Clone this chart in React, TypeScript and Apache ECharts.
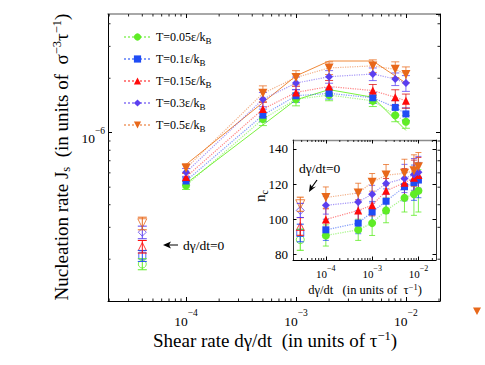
import React, { useEffect, useRef } from "react";
import * as echarts from "echarts";

const FONT = '"Liberation Serif", "Times New Roman", Times, serif';

// ---- series identity ----
const SERIES_NAMES = ["T=0.05ε/kB", "T=0.1ε/kB", "T=0.15ε/kB", "T=0.3ε/kB", "T=0.5ε/kB"];
const COLORS = ["#5fec26", "#1f4cf5", "#ff0a0a", "#5b3ff0", "#e8681a"];
const LINE_COLORS = [
  "rgba(95,236,38,0.55)",
  "rgba(31,76,245,0.55)",
  "rgba(255,10,10,0.5)",
  "rgba(91,63,240,0.55)",
  "rgba(232,104,26,0.5)",
];
const BAR_COLORS = [
  "rgba(95,236,38,0.8)",
  "rgba(31,76,245,0.75)",
  "rgba(220,10,10,0.75)",
  "rgba(91,63,240,0.75)",
  "rgba(232,104,26,0.75)",
];
const SYMBOLS = ["circle", "rect", "triangle", "diamond", "triangle"];
const SYMBOL_ROTATE = [0, 0, 0, 0, 180];
const SYMBOL_SIZES = [8, 7, 8, 8, 9];

// ---- main panel: nucleation rate J_s vs shear rate ----
const SHEAR_RATES = [1e-4, 5e-4, 1e-3, 2e-3, 5e-3, 8e-3, 1e-2];
const J_T005 = [5.11e-7, 1.19e-6, 1.53e-6, 1.615e-6, 1.5e-6, 1.25e-6, 1.15e-6];
const J_T01 = [5.41e-7, 1.25e-6, 1.6e-6, 1.65e-6, 1.56e-6, 1.38e-6, 1.27e-6];
const J_T015 = [5.69e-7, 1.35e-6, 1.67e-6, 1.8e-6, 1.71e-6, 1.57e-6, 1.5e-6];
const J_T03 = [6.04e-7, 1.53e-6, 1.88e-6, 2.04e-6, 2.11e-6, 1.98e-6, 1.88e-6];
const J_T05 = [6.36e-7, 1.65e-6, 2.02e-6, 2.28e-6, 2.34e-6, 2.24e-6, 2.1e-6];
const J_VALUES = [J_T005, J_T01, J_T015, J_T03, J_T05];
// relative error bars
const J_ERR_T005 = [0.05, 0.08, 0.08, 0.07, 0.07, 0.08, 0.08];
const J_ERR_T01 = [0.05, 0.08, 0.08, 0.07, 0.07, 0.09, 0.08];
const J_ERR_T015 = [0.05, 0.09, 0.08, 0.08, 0.08, 0.1, 0.09];
const J_ERR_T03 = [0.05, 0.09, 0.08, 0.08, 0.08, 0.08, 0.1];
const J_ERR_T05 = [0.06, 0.1, 0.09, 0.08, 0.08, 0.1, 0.1];
const J_ERRORS = [J_ERR_T005, J_ERR_T01, J_ERR_T015, J_ERR_T03, J_ERR_T05];

// zero-shear points (drawn at an off-scale position)
const J_ZERO_RATE = 4e-5;
const J_ZERO = [1.88e-7, 2.09e-7, 2.35e-7, 2.82e-7, 3.16e-7];
const J_ZERO_ERR = [0.07, 0.07, 0.08, 0.08, 0.08];

// guide lines (solid)
const FIT_RATES = [1e-4, 1e-3, 2e-3, 5e-3, 1e-2];
const FIT_T05 = [6.67e-7, 2.06e-6, 2.49e-6, 2.49e-6, 1.88e-6];
const FIT_T005 = [5.24e-7, 1.52e-6, 1.73e-6, 1.57e-6, 1.03e-6];

// ---- inset: critical size n_c vs shear rate ----
const NC_T005 = [90.9, 94.1, 97.9, 105.1, 112.2, 114.3, 116.2];
const NC_T01 = [94.1, 97.9, 104.2, 110.3, 118.5, 120.8, 122.3];
const NC_T015 = [100, 105.1, 108, 116.2, 120.8, 123.6, 125.1];
const NC_T03 = [108, 109.9, 114.3, 120.4, 123.2, 125.5, 126.7];
const NC_T05 = [112.4, 115, 121, 125.1, 126.1, 127.6, 129.9];
const NC_VALUES = [NC_T005, NC_T01, NC_T015, NC_T03, NC_T05];
const NC_ERR_T005 = [6, 6, 7, 7, 8, 12, 12];
const NC_ERR_T01 = [6, 6, 6, 7, 8, 10, 10];
const NC_ERR_T015 = [6, 6, 6, 7, 8, 10, 10];
const NC_ERR_T03 = [5, 5, 5, 6, 8, 9, 9];
const NC_ERR_T05 = [6, 5.5, 5, 6, 8, 9, 8];
const NC_ERRORS = [NC_ERR_T005, NC_ERR_T01, NC_ERR_T015, NC_ERR_T03, NC_ERR_T05];
const NC_ZERO_RATE = 2.8e-5;
const NC_ZERO = [88.5, 92.3, 96, 105.1, 108.6];
const NC_ZERO_ERR = [6, 5, 5, 4, 4];

// ---- axis tick helpers ----
const MINOR_MANTISSAS = [2, 3, 4, 5, 6, 7, 8, 9];
const X_DECADES = [1e-5, 1e-4, 1e-3, 1e-2];
const Y_DECADES = [1e-7, 1e-6];

// axis ranges (log10 exponents)
const MAIN_X = [Math.pow(10, -4.71), Math.pow(10, -1.69)];
const MAIN_Y = [Math.pow(10, -6.93), Math.pow(10, -5.344)];
const INSET_X = [Math.pow(10, -4.71), Math.pow(10, -1.62)];
const INSET_Y = [77, 145];

function minorTicks(decades: number[], range: number[]) {
  const out: number[] = [];
  decades.forEach((d) =>
    MINOR_MANTISSAS.forEach((m) => {
      const v = m * d;
      if (v > range[0] && v < range[1]) out.push(v);
    })
  );
  return out;
}

const sup = (fs: number) => ({ fontFamily: FONT, fontSize: fs, color: "#000", verticalAlign: "top", lineHeight: fs + 1 });
const sub = (fs: number) => ({ fontFamily: FONT, fontSize: fs, color: "#000", verticalAlign: "bottom", lineHeight: fs + 1 });

function powerLabel(v: number) {
  const e = Math.round(Math.log10(v));
  return "{b|10}{s|" + (e < 0 ? "\u2212" + -e : String(e)) + "}";
}

function errRender(cap: number) {
  return (params: any, api: any) => {
    const x = api.value(0);
    const p1 = api.coord([x, api.value(1)]);
    const p2 = api.coord([x, api.value(2)]);
    const style = { stroke: api.visual("color"), lineWidth: 1 };
    return {
      type: "group",
      children: [
        { type: "line", shape: { x1: p1[0], y1: p1[1], x2: p2[0], y2: p2[1] }, style },
        { type: "line", shape: { x1: p1[0] - cap, y1: p1[1], x2: p1[0] + cap, y2: p1[1] }, style },
        { type: "line", shape: { x1: p2[0] - cap, y1: p2[1], x2: p2[0] + cap, y2: p2[1] }, style },
      ],
    };
  };
}

function xMinorRender(len: number) {
  return (params: any, api: any) => {
    const cs = params.coordSys;
    const px = api.coord([api.value(0), api.value(1)])[0];
    const b = cs.y + cs.height;
    const t = cs.y;
    const style = { stroke: "#222", lineWidth: 1 };
    return {
      type: "group",
      children: [
        { type: "line", shape: { x1: px, y1: b, x2: px, y2: b - len }, style },
        { type: "line", shape: { x1: px, y1: t, x2: px, y2: t + len }, style },
      ],
    };
  };
}

function yMinorRender(len: number) {
  return (params: any, api: any) => {
    const cs = params.coordSys;
    const py = api.coord([api.value(0), api.value(1)])[1];
    const l = cs.x;
    const r = cs.x + cs.width;
    const style = { stroke: "#222", lineWidth: 1 };
    return {
      type: "group",
      children: [
        { type: "line", shape: { x1: l, y1: py, x2: l + len, y2: py }, style },
        { type: "line", shape: { x1: r, y1: py, x2: r - len, y2: py }, style },
      ],
    };
  };
}

function logAxisBase(gridIndex: number, range: number[], extra: any) {
  return {
    type: "log",
    logBase: 10,
    gridIndex,
    min: range[0],
    max: range[1],
    splitLine: { show: false },
    axisLine: { show: true, lineStyle: { color: "#000", width: 1 } },
    axisTick: { show: true, inside: true, length: 4, lineStyle: { color: "#000" } },
    ...extra,
  };
}

export default function App() {
  const ref = useRef<HTMLDivElement>(null);

  useEffect(() => {
    document.body.style.margin = "0";
    if (!ref.current) return;
    const chart = echarts.init(ref.current, null, { renderer: "svg" });

    const mainLabel = {
      show: true,
      formatter: powerLabel,
      showMinLabel: false,
      showMaxLabel: false,
      rich: {
        b: { fontFamily: FONT, fontSize: 13.5, color: "#000", verticalAlign: "bottom", lineHeight: 20 },
        s: sup(9.5),
      },
    };
    const insetXLabel = {
      show: true,
      formatter: powerLabel,
      showMinLabel: false,
      showMaxLabel: false,
      margin: 4,
      rich: {
        b: { fontFamily: FONT, fontSize: 11, color: "#000", verticalAlign: "bottom", lineHeight: 15 },
        s: sup(8),
      },
    };

    const series: any[] = [];

    // solid guide lines
    series.push({
      name: "guide05",
      type: "line",
      xAxisIndex: 0,
      yAxisIndex: 0,
      data: FIT_RATES.map((r, k) => [r, FIT_T05[k]]),
      symbol: "none",
      lineStyle: { color: "#f08a3a", width: 1 },
      z: 2,
      silent: true,
    });
    series.push({
      name: "guide005",
      type: "line",
      xAxisIndex: 0,
      yAxisIndex: 0,
      data: FIT_RATES.map((r, k) => [r, FIT_T005[k]]),
      symbol: "none",
      lineStyle: { color: "#7cf23f", width: 1 },
      z: 2,
      silent: true,
    });

    SERIES_NAMES.forEach((name, i) => {
      const common = {
        symbol: SYMBOLS[i],
        symbolSize: SYMBOL_SIZES[i],
        symbolRotate: SYMBOL_ROTATE[i],
        itemStyle: { color: COLORS[i] },
        lineStyle: { type: "dotted", color: LINE_COLORS[i], width: 1.2 },
        z: 4,
      };
      // main error bars
      series.push({
        type: "custom",
        xAxisIndex: 0,
        yAxisIndex: 0,
        itemStyle: { color: BAR_COLORS[i] },
        renderItem: errRender(4),
        encode: { x: 0, y: [1, 2] },
        data: SHEAR_RATES.map((r, k) => [
          r,
          J_VALUES[i][k] * (1 - J_ERRORS[i][k]),
          J_VALUES[i][k] * (1 + J_ERRORS[i][k]),
        ]),
        z: 3,
        silent: true,
      });
      // main markers + dotted connection
      series.push({
        name,
        type: "line",
        xAxisIndex: 0,
        yAxisIndex: 0,
        data: SHEAR_RATES.map((r, k) => [r, J_VALUES[i][k]]),
        ...common,
      });
      // main zero-shear point
      series.push({
        type: "scatter",
        xAxisIndex: 0,
        yAxisIndex: 0,
        data: [[J_ZERO_RATE, J_ZERO[i]]],
        symbol: SYMBOLS[i],
        symbolSize: SYMBOL_SIZES[i],
        symbolRotate: SYMBOL_ROTATE[i],
        itemStyle: { color: "rgba(0,0,0,0)", borderColor: COLORS[i], borderWidth: 1 },
        z: 4,
        silent: true,
      });
      series.push({
        type: "custom",
        xAxisIndex: 0,
        yAxisIndex: 0,
        itemStyle: { color: COLORS[i] },
        renderItem: errRender(4.5),
        encode: { x: 0, y: [1, 2] },
        data: [[J_ZERO_RATE, J_ZERO[i] * (1 - J_ZERO_ERR[i]), J_ZERO[i] * (1 + J_ZERO_ERR[i])]],
        z: 5,
        silent: true,
      });

      // inset error bars
      series.push({
        type: "custom",
        xAxisIndex: 2,
        yAxisIndex: 2,
        itemStyle: { color: BAR_COLORS[i] },
        renderItem: errRender(3),
        encode: { x: 0, y: [1, 2] },
        data: SHEAR_RATES.map((r, k) => [r, NC_VALUES[i][k] - NC_ERRORS[i][k], NC_VALUES[i][k] + NC_ERRORS[i][k]]),
        z: 3,
        silent: true,
      });
      series.push({
        name,
        type: "line",
        xAxisIndex: 2,
        yAxisIndex: 2,
        data: SHEAR_RATES.map((r, k) => [r, NC_VALUES[i][k]]),
        ...common,
      });
      series.push({
        type: "scatter",
        xAxisIndex: 2,
        yAxisIndex: 2,
        data: [[NC_ZERO_RATE, NC_ZERO[i]]],
        symbol: SYMBOLS[i],
        symbolSize: SYMBOL_SIZES[i],
        symbolRotate: SYMBOL_ROTATE[i],
        itemStyle: { color: "rgba(0,0,0,0)", borderColor: COLORS[i], borderWidth: 1 },
        z: 4,
        silent: true,
      });
      series.push({
        type: "custom",
        xAxisIndex: 2,
        yAxisIndex: 2,
        itemStyle: { color: COLORS[i] },
        renderItem: errRender(3.5),
        encode: { x: 0, y: [1, 2] },
        data: [[NC_ZERO_RATE, NC_ZERO[i] - NC_ZERO_ERR[i], NC_ZERO[i] + NC_ZERO_ERR[i]]],
        z: 5,
        silent: true,
      });
    });

    // minor ticks
    series.push({
      type: "custom",
      xAxisIndex: 0,
      yAxisIndex: 0,
      renderItem: xMinorRender(2.5),
      data: minorTicks(X_DECADES, MAIN_X).map((v) => [v, 1e-6]),
      silent: true,
      z: 1,
    });
    series.push({
      type: "custom",
      xAxisIndex: 0,
      yAxisIndex: 0,
      renderItem: yMinorRender(2.5),
      data: minorTicks(Y_DECADES, MAIN_Y).map((v) => [1e-3, v]),
      silent: true,
      z: 1,
    });
    series.push({
      type: "custom",
      xAxisIndex: 2,
      yAxisIndex: 2,
      renderItem: xMinorRender(2),
      data: minorTicks(X_DECADES, INSET_X).map((v) => [v, 100]),
      silent: true,
      z: 1,
    });

    const option: any = {
      animation: false,
      backgroundColor: "#fff",
      textStyle: { fontFamily: FONT },
      grid: [
        { left: 108, top: 14, width: 332, height: 287 },
        { left: 293, top: 140, width: 143, height: 120 },
      ],
      legend: {
        data: SERIES_NAMES,
        orient: "vertical",
        left: 118,
        top: 24,
        itemWidth: 27,
        itemHeight: 9,
        itemGap: 6,
        formatter: (n: string) => n.replace("kB", "k{sub|B}"),
        textStyle: {
          fontFamily: FONT,
          fontSize: 12,
          color: "#000",
          lineHeight: 16,
          rich: { sub: sub(9) },
        },
      },
      xAxis: [
        logAxisBase(0, MAIN_X, { position: "bottom", axisLabel: { ...mainLabel, margin: 7 } }),
        logAxisBase(0, MAIN_X, {
          position: "top",
          axisLine: { show: true, lineStyle: { color: "#8c8c8c", width: 1.6 } },
          axisLabel: { show: false },
        }),
        logAxisBase(1, INSET_X, { position: "bottom", axisLabel: insetXLabel, axisTick: { show: true, inside: true, length: 3.5, lineStyle: { color: "#000" } } }),
        logAxisBase(1, INSET_X, {
          position: "top",
          axisLine: { show: true, lineStyle: { color: "#8c8c8c", width: 1.4 } },
          axisTick: { show: true, inside: true, length: 3.5, lineStyle: { color: "#000" } },
          axisLabel: { show: false },
        }),
      ],
      yAxis: [
        logAxisBase(0, MAIN_Y, { position: "left", axisLabel: { ...mainLabel, margin: 3, padding: [6, 0, 0, 0] } }),
        logAxisBase(0, MAIN_Y, { position: "right", axisLabel: { show: false } }),
        {
          type: "value",
          gridIndex: 1,
          position: "left",
          min: INSET_Y[0],
          max: INSET_Y[1],
          splitNumber: 3,
          splitLine: { show: false },
          axisLine: { show: true, lineStyle: { color: "#333", width: 1 } },
          axisTick: { show: true, inside: true, length: 3.5, lineStyle: { color: "#000" } },
          axisLabel: {
            show: true,
            showMinLabel: false,
            showMaxLabel: false,
            margin: 5,
            fontFamily: FONT,
            fontSize: 13,
            color: "#000",
          },
        },
        {
          type: "value",
          gridIndex: 1,
          position: "right",
          min: INSET_Y[0],
          max: INSET_Y[1],
          splitNumber: 3,
          splitLine: { show: false },
          axisLine: { show: true, lineStyle: { color: "#333", width: 1 } },
          axisTick: { show: true, inside: true, length: 3.5, lineStyle: { color: "#000" } },
          axisLabel: { show: false },
        },
      ],
      graphic: [
        {
          type: "text",
          x: 275,
          y: 340,
          style: {
            text: "Shear rate d\u03b3/dt  (in units of \u03c4{s|\u22121})",
            fontFamily: FONT,
            fontSize: 19,
            lineHeight: 22,
            fill: "#000",
            align: "center",
            verticalAlign: "middle",
            rich: { s: sup(12.5) },
          },
        },
        {
          type: "text",
          x: 61,
          y: 157,
          rotation: Math.PI / 2,
          style: {
            text: "Nucleation rate J{d|s}  (in units of  \u03c3{s|\u22123}\u03c4{s|\u22121})",
            fontFamily: FONT,
            fontSize: 19,
            lineHeight: 22,
            fill: "#000",
            align: "center",
            verticalAlign: "middle",
            rich: { s: sup(12.5), d: sub(12.5) },
          },
        },
        {
          type: "text",
          x: 365,
          y: 290,
          style: {
            text: "d\u03b3/dt   (in units of  \u03c4{s|\u22121})",
            fontFamily: FONT,
            fontSize: 12.5,
            lineHeight: 15,
            fill: "#000",
            align: "center",
            verticalAlign: "middle",
            rich: { s: sup(8.5) },
          },
        },
        {
          type: "text",
          x: 260,
          y: 196,
          rotation: Math.PI / 2,
          style: {
            text: "n{d|c}",
            fontFamily: FONT,
            fontSize: 15,
            lineHeight: 18,
            fill: "#000",
            align: "center",
            verticalAlign: "middle",
            rich: { d: sub(10) },
          },
        },
        {
          type: "text",
          x: 183,
          y: 245,
          style: {
            text: "d\u03b3/dt=0",
            fontFamily: FONT,
            fontSize: 13.5,
            fill: "#000",
            align: "left",
            verticalAlign: "middle",
          },
        },
        {
          type: "line",
          shape: { x1: 169, y1: 245, x2: 178, y2: 245 },
          style: { stroke: "#000", lineWidth: 1 },
        },
        {
          type: "polygon",
          shape: { points: [[163, 245], [171, 241.5], [169, 245], [171, 248.5]] },
          style: { fill: "#000" },
        },
        {
          type: "text",
          x: 299,
          y: 168,
          style: {
            text: "d\u03b3/dt=0",
            fontFamily: FONT,
            fontSize: 13.5,
            fill: "#000",
            align: "left",
            verticalAlign: "middle",
          },
        },
        {
          type: "line",
          shape: { x1: 317, y1: 180, x2: 312, y2: 187 },
          style: { stroke: "#000", lineWidth: 1.2 },
        },
        {
          type: "polygon",
          shape: { points: [[309, 192], [310, 184], [312.5, 187.5], [316, 186.5]] },
          style: { fill: "#000" },
        },
        {
          type: "polygon",
          shape: { points: [[473, 307.5], [481, 307.5], [477, 315]] },
          style: { fill: COLORS[4] },
        },
      ],
      series,
    };

    chart.setOption(option);
    return () => chart.dispose();
  }, []);

  return <div ref={ref} style={{ width: 485, height: 365 }} />;
}
